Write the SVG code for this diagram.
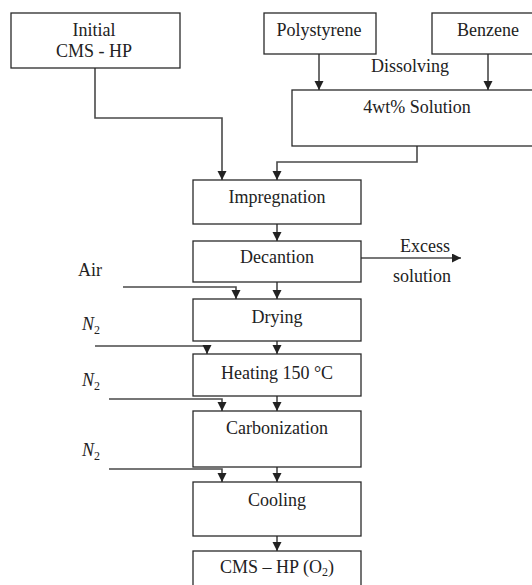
<svg xmlns="http://www.w3.org/2000/svg" width="532" height="585" viewBox="0 0 532 585">
<defs>
<marker id="ah" markerUnits="userSpaceOnUse" markerWidth="10" markerHeight="10" refX="9" refY="4.5" orient="auto">
<path d="M0,0 L9,4.5 L0,9 Z" fill="#222"/>
</marker>
<style>
.box{fill:#fff;stroke:#2a2a2a;stroke-width:1.3}
.ln{fill:none;stroke:#4a4a4a;stroke-width:1.6;marker-end:url(#ah)}
text{font-family:'Liberation Serif','DejaVu Serif',serif;font-size:18px;fill:#222}
.c{text-anchor:middle}
.it{font-style:italic}
.sub{font-size:12px;font-style:normal}
</style>
</defs>
<rect width="532" height="585" fill="#fff"/>
<g id="connectors">
<path class="ln" d="M95 68 V118 H222 V180"/>
<path class="ln" d="M319 54 V90"/>
<path class="ln" d="M488 54 V90"/>
<path class="ln" d="M417 146 V162 H277 V180"/>
<path class="ln" d="M277 224 V241"/>
<path class="ln" d="M361 258 H461"/>
<path class="ln" d="M277 282 V299"/>
<path class="ln" d="M123 287 H236 V299"/>
<path class="ln" d="M277 341 V354"/>
<path class="ln" d="M95 346 H207 V354"/>
<path class="ln" d="M277 396 V411"/>
<path class="ln" d="M109 399 H222 V411"/>
<path class="ln" d="M277 467 V482"/>
<path class="ln" d="M109 469 H222 V482"/>
<path class="ln" d="M277 536 V551"/>
</g>
<g font-family="Liberation Serif, serif">
<g id="initial"><rect class="box" x="11" y="13" width="169" height="55"/><text class="c" x="94" y="36">Initial</text><text class="c" x="94" y="57">CMS - HP</text></g>
<g id="polystyrene"><rect class="box" x="264" y="13" width="112" height="41"/><text class="c" x="319" y="36">Polystyrene</text></g>
<g id="benzene"><rect class="box" x="432" y="13" width="110" height="41"/><text class="c" x="488" y="36">Benzene</text></g>
<g id="dissolving"><text x="371" y="72">Dissolving</text></g>
<g id="solution"><rect class="box" x="292" y="90" width="250" height="56"/><text class="c" x="417" y="113">4wt% Solution</text></g>
<g id="impregnation"><rect class="box" x="193" y="180" width="168" height="44"/><text class="c" x="277" y="203">Impregnation</text></g>
<g id="decantion"><rect class="box" x="193" y="241" width="168" height="41"/><text class="c" x="277" y="263">Decantion</text></g>
<g id="excess"><text x="400" y="252">Excess</text><text x="393" y="282">solution</text></g>
<g id="air"><text x="78" y="276">Air</text></g>
<g id="drying"><rect class="box" x="193" y="299" width="168" height="42"/><text class="c" x="277" y="323">Drying</text></g>
<g id="n2a"><text class="it" x="82" y="330">N<tspan class="sub" dy="4">2</tspan></text></g>
<g id="heating"><rect class="box" x="193" y="354" width="168" height="42"/><text class="c" x="277" y="379">Heating 150 °C</text></g>
<g id="n2b"><text class="it" x="82" y="386">N<tspan class="sub" dy="4">2</tspan></text></g>
<g id="carbonization"><rect class="box" x="193" y="411" width="168" height="56"/><text class="c" x="277" y="434">Carbonization</text></g>
<g id="n2c"><text class="it" x="82" y="456">N<tspan class="sub" dy="4">2</tspan></text></g>
<g id="cooling"><rect class="box" x="193" y="482" width="168" height="54"/><text class="c" x="277" y="506">Cooling</text></g>
<g id="product"><rect class="box" x="193" y="551" width="168" height="50"/><text class="c" x="277" y="573">CMS – HP (O<tspan class="sub" dy="3">2</tspan><tspan dy="-3">)</tspan></text></g>
</g>
</svg>
